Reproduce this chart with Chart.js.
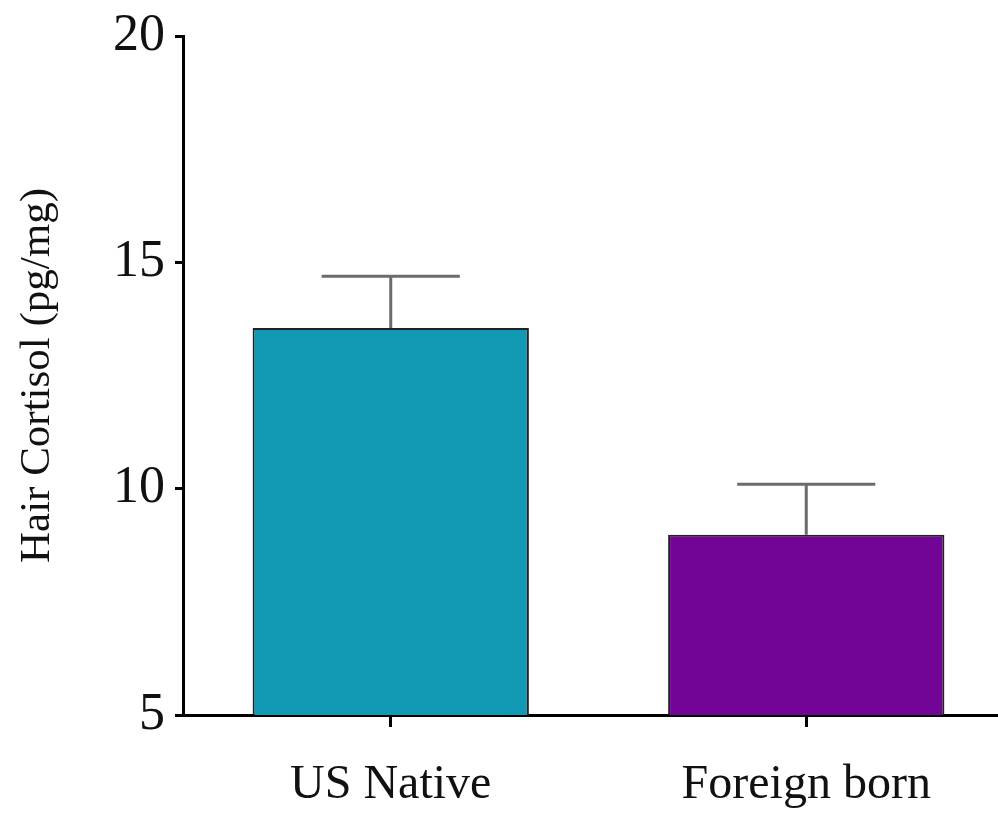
<!DOCTYPE html>
<html>
<head>
<meta charset="utf-8">
<title>Hair Cortisol by Nativity</title>
<script src="https://cdn.jsdelivr.net/npm/chart.js@4.4.1/dist/chart.umd.min.js"></script>
<style>
  html, body { margin: 0; padding: 0; background: #fff; overflow: hidden; }
  #wrap { width: 1014px; height: 835px; position: relative; }
</style>
</head>
<body>
<div id="wrap"><canvas id="c"></canvas></div>
<script>
// Group labels, mean cortisol and standard error per group
const groups = ['US Native', 'Foreign born'];
const meanCortisol = [13.55, 8.98];
const stdError = [1.14, 1.12];
const barColors = ['#1199b4', '#720595'];
const yTicks = [5, 10, 15, 20];

// Draws the upper error whisker with a cap above each bar
const errorBars = {
  id: 'errorBars',
  afterDatasetsDraw(chart) {
    const { ctx, scales: { x, y } } = chart;
    const meta = chart.getDatasetMeta(0);
    ctx.save();
    ctx.strokeStyle = '#6b6b6b';
    ctx.lineWidth = 3;
    meta.data.forEach((bar, i) => {
      const cx = x.getPixelForValue(i);
      const yBase = y.getPixelForValue(meanCortisol[i]);
      const yTop = y.getPixelForValue(meanCortisol[i] + stdError[i]);
      const half = bar.width * 0.25;
      ctx.beginPath();
      ctx.moveTo(cx, yBase);
      ctx.lineTo(cx, yTop);
      ctx.moveTo(cx - half, yTop);
      ctx.lineTo(cx + half, yTop);
      ctx.stroke();
    });
    ctx.restore();
  }
};

new Chart(document.getElementById('c'), {
  type: 'bar',
  data: {
    labels: groups,
    datasets: [{
      data: meanCortisol,
      backgroundColor: barColors,
      borderColor: '#222',
      borderWidth: 2,
      barPercentage: 0.665,
      categoryPercentage: 1.0
    }]
  },
  options: {
    responsive: true,
    maintainAspectRatio: false,
    animation: false,
    layout: { padding: { top: 35, right: 0, left: 0, bottom: 0 } },
    plugins: { legend: { display: false }, tooltip: { enabled: false } },
    scales: {
      x: {
        offset: true,
        afterFit(scale) { scale.height = 120; },
        grid: {
          offset: false,
          drawOnChartArea: false,
          drawTicks: true,
          tickLength: 12,
          tickWidth: 3,
          tickColor: '#000'
        },
        border: { display: true, color: '#000', width: 3 },
        ticks: {
          color: '#111',
          padding: 30,
          font: { family: 'Liberation Serif', size: 48 }
        }
      },
      y: {
        min: 5,
        max: 20,
        afterFit(scale) { scale.width = 183; },
        afterBuildTicks(scale) { scale.ticks = yTicks.map(v => ({ value: v })); },
        grid: {
          drawOnChartArea: false,
          drawTicks: true,
          tickLength: 8,
          tickWidth: 3,
          tickColor: '#000'
        },
        border: { display: true, color: '#000', width: 3 },
        ticks: {
          color: '#111',
          padding: 10,
          font: { family: 'Liberation Serif', size: 52, lineHeight: 1.0 }
        },
        title: {
          display: true,
          text: 'Hair Cortisol (pg/mg)',
          color: '#111',
          padding: { top: 12, bottom: 0 },
          font: { family: 'Liberation Serif', size: 43 }
        }
      }
    }
  },
  plugins: [errorBars]
});
</script>
</body>
</html>
